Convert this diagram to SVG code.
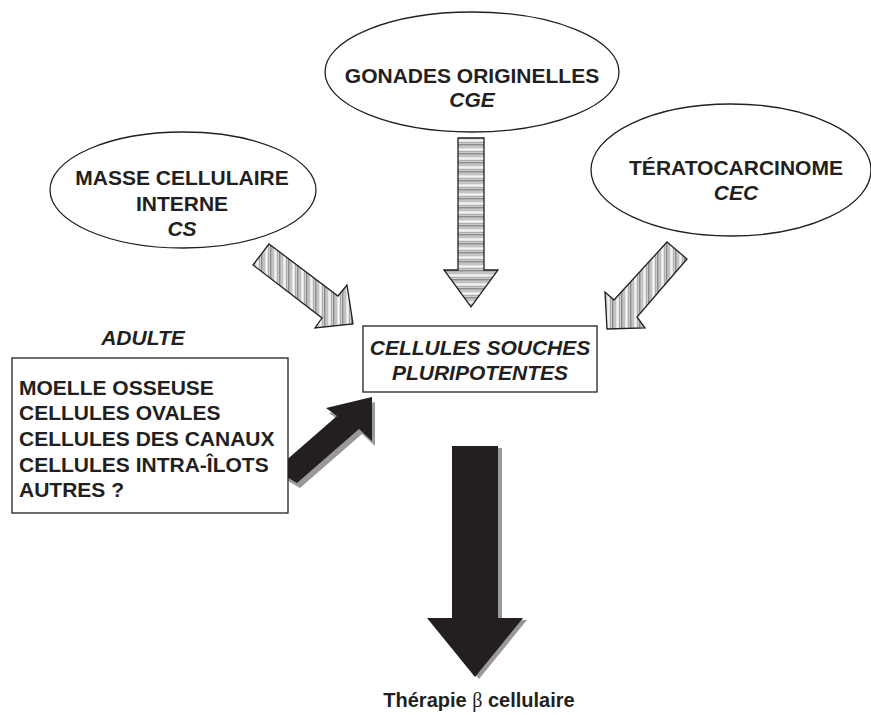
<svg xmlns="http://www.w3.org/2000/svg" width="871" height="715" viewBox="0 0 871 715">
<style>
.lbl{font-family:"Liberation Sans",Arial,sans-serif;font-weight:bold;font-size:21px;fill:#231f20;text-anchor:middle}
.it{font-style:italic}
.left{text-anchor:start}
.shape{fill:#fff;stroke:#231f20;stroke-width:1.3}
.hatch{stroke:#231f20;stroke-width:1.3;stroke-linejoin:miter}
.black{fill:#231f20}
.shadow{fill:#999}
</style>
<defs>
<pattern id="vstripe" patternUnits="userSpaceOnUse" width="9" height="10">
<rect width="9" height="10" fill="#d6d6d6"/>
<rect x="0" width="1.5" height="10" fill="#8c8c8c"/>
<rect x="2.5" width="1" height="10" fill="#b0b0b0"/>
<rect x="4.5" width="2" height="10" fill="#f2f2f2"/>
<rect x="7.2" width="1" height="10" fill="#a3a3a3"/>
</pattern>
<pattern id="hstripe" patternUnits="userSpaceOnUse" width="10" height="9">
<rect width="10" height="9" fill="#d6d6d6"/>
<rect y="0" width="10" height="1.5" fill="#8c8c8c"/>
<rect y="2.5" width="10" height="1" fill="#b0b0b0"/>
<rect y="4.5" width="10" height="2" fill="#f2f2f2"/>
<rect y="7.2" width="10" height="1" fill="#a3a3a3"/>
</pattern>
</defs>
<rect width="871" height="715" fill="#fff"/>

<g id="connectors">
<polygon class="hatch" fill="url(#vstripe)" points="269,244 338,296 347,285 353,324 315,328 322,318 253,265"/>
<polygon class="hatch" fill="url(#hstripe)" points="458,138 484,138 484,270 498,270 471,307 444,270 458,270"/>
<polygon class="hatch" fill="url(#vstripe)" points="667,242 687,259 637,317 645,328 607,329 605,292 614,300"/>
<g id="arrow-adulte">
<polygon class="shadow" transform="translate(3,5)" points="372,397 372,441 359,429 297,483 275,470 337,416 326,408"/>
<polygon class="black" points="372,397 372,441 359,429 297,483 275,470 337,416 326,408"/>
</g>
<g id="arrow-therapie">
<polygon class="shadow" transform="translate(4,2)" points="452,446 498,446 498,618 523,618 475,677 427,618 452,618"/>
<polygon class="black" points="452,446 498,446 498,618 523,618 475,677 427,618 452,618"/>
</g>
</g>

<g id="node-masse">
<ellipse class="shape" cx="183" cy="190" rx="133" ry="58"/>
<text class="lbl" x="182" y="185">MASSE CELLULAIRE</text>
<text class="lbl" x="182" y="211">INTERNE</text>
<text class="lbl it" x="182" y="236">CS</text>
</g>

<g id="node-gonades">
<ellipse class="shape" cx="472" cy="72" rx="147" ry="60"/>
<text class="lbl" x="472" y="83">GONADES ORIGINELLES</text>
<text class="lbl it" x="472" y="107">CGE</text>
</g>

<g id="node-terato">
<ellipse class="shape" cx="731" cy="170" rx="140" ry="66"/>
<text class="lbl" x="736" y="175">TÉRATOCARCINOME</text>
<text class="lbl it" x="736" y="200">CEC</text>
</g>

<g id="node-souches">
<rect class="shape" x="363" y="326" width="234" height="66"/>
<text class="lbl it" x="480" y="355">CELLULES SOUCHES</text>
<text class="lbl it" x="480" y="380">PLURIPOTENTES</text>
</g>

<g id="node-adulte">
<text class="lbl it" x="143" y="345">ADULTE</text>
<rect class="shape" x="12" y="358" width="276" height="155"/>
<text class="lbl left" x="19" y="395">MOELLE OSSEUSE</text>
<text class="lbl left" x="19" y="420">CELLULES OVALES</text>
<text class="lbl left" x="19" y="446">CELLULES DES CANAUX</text>
<text class="lbl left" x="19" y="472">CELLULES INTRA-ÎLOTS</text>
<text class="lbl left" x="19" y="497">AUTRES ?</text>
</g>

<g id="node-therapie">
<text class="lbl" x="479" y="707" style="font-size:20px">Thérapie <tspan style="font-family:'Liberation Serif','DejaVu Serif',serif;font-weight:normal">β</tspan> cellulaire</text>
</g>
</svg>
